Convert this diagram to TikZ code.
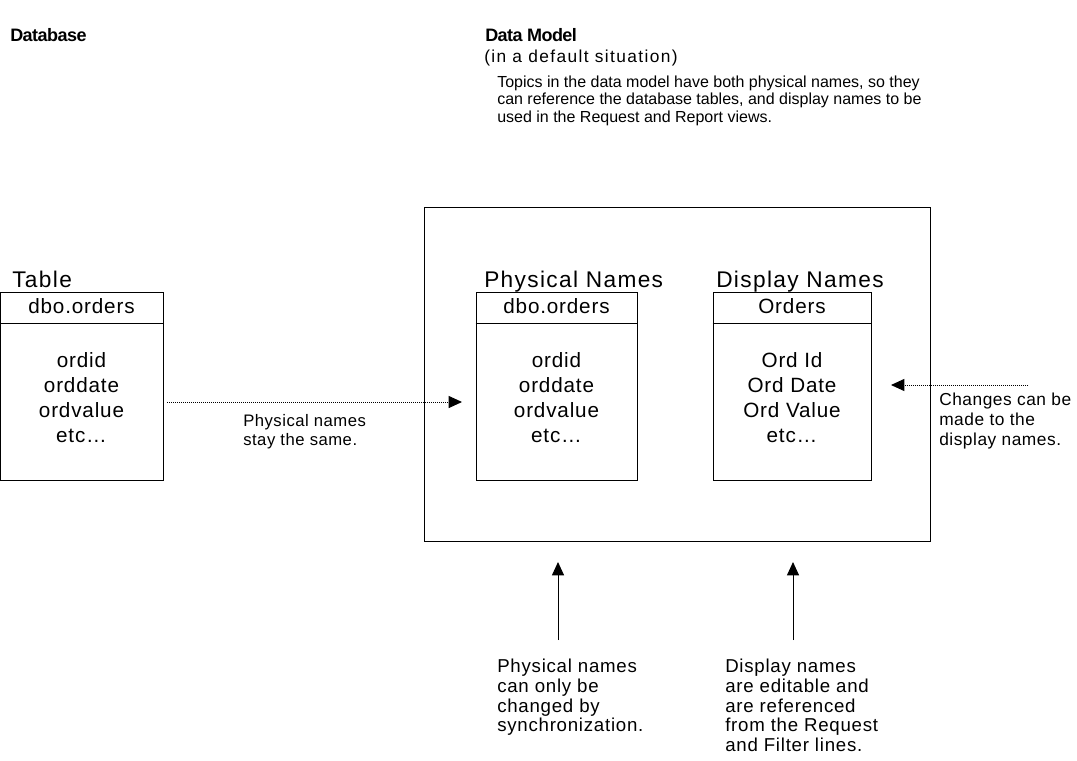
\documentclass[tikz,border=0pt]{standalone}
\usepackage{fontspec}
\setmainfont{Liberation Sans}
\newfontfamily\lsbot[LetterSpace=4]{Liberation Sans}
\newfontfamily\lsside[LetterSpace=3]{Liberation Sans}
\newfontfamily\lsmid[LetterSpace=3]{Liberation Sans}
\newfontfamily\lssit[LetterSpace=8]{Liberation Sans}
\newfontfamily\lsitem[LetterSpace=4]{Liberation Sans}
\newfontfamily\lshead[LetterSpace=6]{Liberation Sans}
\newfontfamily\lstitle[LetterSpace=-3]{Liberation Sans}
\usetikzlibrary{arrows.meta}
\begin{document}
\begin{tikzpicture}[x=0.75pt,y=-0.75pt,
  lbl/.style={anchor=base west,inner sep=0pt,font=\fontsize{12}{15}\selectfont},
  midlbl/.style={anchor=base west,inner sep=0pt,font=\lsmid\fontsize{12.5}{16}\selectfont},
  sidelbl/.style={anchor=base west,inner sep=0pt,font=\lsside\fontsize{13}{16}\selectfont},
  botlbl/.style={anchor=base west,inner sep=0pt,font=\lsbot\fontsize{14}{18}\selectfont},
  title/.style={anchor=base west,inner sep=0pt,font=\lstitle\fontsize{13.5}{15}\selectfont\bfseries},
  head/.style={anchor=base west,inner sep=0pt,font=\lshead\fontsize{17}{22}\selectfont},
  item/.style={anchor=base,inner sep=0pt,font=\lsitem\fontsize{15.5}{19}\selectfont},
  tbox/.style={draw,line width=0.75pt,inner sep=0pt,minimum height=141pt},
  solidarrow/.style={line width=0.75pt,-{Triangle[length=10pt,width=9pt]}},
  dotarrow/.style={line width=0.75pt,dash pattern=on 0.75pt off 0.75pt,-{Triangle[length=10pt,width=9pt]}}
]
\useasboundingbox (0,0) rectangle (1077,760);
% titles
\node[title] (db) at (10,41) {Database};
\node[title] (dm) at (485,41) {Data Model};
\node[anchor=base west,inner sep=0pt,font=\lssit\fontsize{13}{16}\selectfont] (dflt) at (484,62) {(in a default situation)};
\node[lbl] (p1) at (497,87) {Topics in the data model have both physical names, so they};
\node[lbl] (p2) at (497,104) {can reference the database tables, and display names to be};
\node[lbl] (p3) at (497,122) {used in the Request and Report views.};
% big box
\node[draw,line width=0.75pt,minimum width=379.5pt,minimum height=250.5pt,inner sep=0pt] (model) at (677,374) {};
% headings
\node[head] (tblh) at (12,287) {Table};
\node[head] (phh) at (484,287) {Physical Names};
\node[head] (dih) at (716,287) {Display Names};
% left table
\node[tbox,minimum width=122.25pt] (tbl) at (81.5,386) {};
\draw[line width=0.75pt] (tbl.west |- 0,323) -- (tbl.east |- 0,323);
\node[item] (t0) at (81.5,313) {dbo.orders};
\node[item] (t1) at (81.5,367) {ordid};
\node[item] (t2) at (81.5,392) {orddate};
\node[item] (t3) at (81.5,417) {ordvalue};
\node[item] (t4) at (81.5,442) {etc\dots};
% physical table
\node[tbox,minimum width=120.75pt] (phy) at (556.5,386) {};
\draw[line width=0.75pt] (phy.west |- 0,323) -- (phy.east |- 0,323);
\node[item] (f0) at (556.5,313) {dbo.orders};
\node[item] (f1) at (556.5,367) {ordid};
\node[item] (f2) at (556.5,392) {orddate};
\node[item] (f3) at (556.5,417) {ordvalue};
\node[item] (f4) at (556.5,442) {etc\dots};
% display table
\node[tbox,minimum width=118.5pt] (dis) at (792,386) {};
\draw[line width=0.75pt] (dis.west |- 0,323) -- (dis.east |- 0,323);
\node[item] (d0) at (792,313) {Orders};
\node[item] (d1) at (792,367) {Ord Id};
\node[item] (d2) at (792,392) {Ord Date};
\node[item] (d3) at (792,417) {Ord Value};
\node[item] (d4) at (792,442) {etc\dots};
% arrows
\coordinate (a1s) at (167,402);
\coordinate (a1e) at (462,402);
\draw[dotarrow] (a1s) -- (a1e);
\node[midlbl] (n1a) at (243,426) {Physical names};
\node[midlbl] (n1b) at (243,445) {stay the same.};
\coordinate (a2s) at (1028,385);
\coordinate (a2e) at (891,385);
\draw[dotarrow] (a2s) -- (a2e);
\node[sidelbl] (n2a) at (939,405) {Changes can be};
\node[sidelbl] (n2b) at (939,425) {made to the};
\node[sidelbl] (n2c) at (939,445) {display names.};
\coordinate (a3s) at (558,640);
\coordinate (a3e) at (558,562);
\draw[solidarrow] (a3s) -- (a3e);
\coordinate (a4s) at (793,640);
\coordinate (a4e) at (793,562);
\draw[solidarrow] (a4s) -- (a4e);
\node[botlbl] (n3a) at (497,672) {Physical names};
\node[botlbl] (n3b) at (497,692) {can only be};
\node[botlbl] (n3c) at (497,712) {changed by};
\node[botlbl] (n3d) at (497,731) {synchronization.};
\node[botlbl] (n4a) at (725,672) {Display names};
\node[botlbl] (n4b) at (725,692) {are editable and};
\node[botlbl] (n4c) at (725,712) {are referenced};
\node[botlbl] (n4d) at (725,731) {from the Request};
\node[botlbl] (n4e) at (725,751) {and Filter lines.};
\end{tikzpicture}
\end{document}
